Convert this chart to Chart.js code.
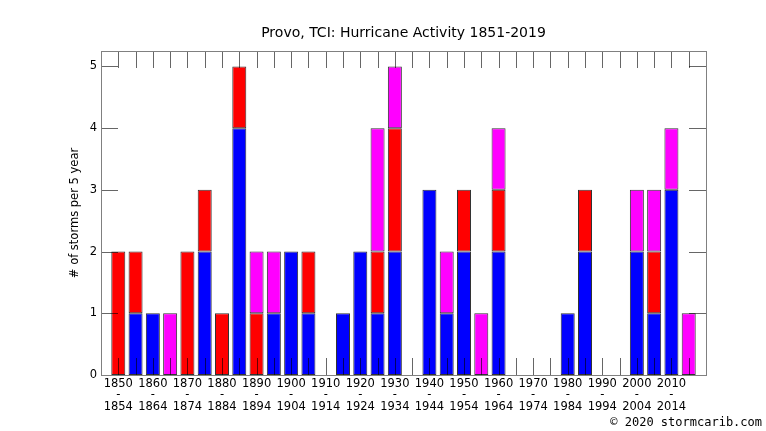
<!DOCTYPE html>
<html>
<head>
<meta charset="utf-8">
<title>Provo, TCI: Hurricane Activity 1851-2019</title>
<script src="https://cdn.jsdelivr.net/npm/chart.js@4.4.1/dist/chart.umd.min.js"></script>
<style>
  html, body { margin: 0; padding: 0; background: #fff; }
  #wrap { width: 766px; height: 431px; }
</style>
</head>
<body>
<div id="wrap"><canvas id="grafico"></canvas></div>
<script>
// first year of each 5-year period
const PERIOD_START = [1850, 1855, 1860, 1865, 1870, 1875, 1880, 1885, 1890, 1895,
                      1900, 1905, 1910, 1915, 1920, 1925, 1930, 1935, 1940, 1945,
                      1950, 1955, 1960, 1965, 1970, 1975, 1980, 1985, 1990, 1995,
                      2000, 2005, 2010, 2015];

// stacked counts per period, bottom to top (colour meaning not given on the chart)
const SERIES_BLUE    = [0, 1, 1, 0, 0, 2, 0, 4, 0, 1, 2, 1, 0, 1, 2, 1, 2, 0, 3, 1,
                        2, 0, 2, 0, 0, 0, 1, 2, 0, 0, 2, 1, 3, 0];
const SERIES_RED     = [2, 1, 0, 0, 2, 1, 1, 1, 1, 0, 0, 1, 0, 0, 0, 1, 2, 0, 0, 0,
                        1, 0, 1, 0, 0, 0, 0, 1, 0, 0, 0, 1, 0, 0];
const SERIES_MAGENTA = [0, 0, 0, 1, 0, 0, 0, 0, 1, 1, 0, 0, 0, 0, 0, 2, 1, 0, 0, 1,
                        0, 1, 1, 0, 0, 0, 0, 0, 0, 0, 1, 1, 1, 1];

const Y_TICKS = [0, 1, 2, 3, 4, 5];

// one empty slot on each side of the bars
const labels = [''].concat(PERIOD_START.map(String), ['']);
const pad = arr => [null].concat(arr, [null]);

const TICK_FONT = { family: 'DejaVu Sans', size: 11.5 };

function barSet(name, values, colour) {
  return {
    label: name,
    data: pad(values),
    backgroundColor: colour,
    borderColor: '#333',
    borderWidth: c => (c.raw ? 1 : 0),
    borderSkipped: false,
    categoryPercentage: 1,
    barPercentage: 0.81
  };
}

const innerTicks = {
  id: 'innerTicks',
  afterDatasetsDraw(chart) {
    const { ctx, chartArea: a, scales: { x, y } } = chart;
    ctx.save();
    ctx.lineWidth = 1;
    ctx.strokeStyle = 'rgba(0,0,0,0.6)';
    ctx.beginPath();
    PERIOD_START.forEach((p, i) => {
      const px = Math.round(x.getPixelForValue(i + 1)) + 0.5;
      ctx.moveTo(px, a.bottom);
      ctx.lineTo(px, a.bottom - 17);
      ctx.moveTo(px, a.top);
      ctx.lineTo(px, a.top + 17);
    });
    Y_TICKS.forEach(v => {
      const py = Math.round(y.getPixelForValue(v)) + 0.5;
      ctx.moveTo(a.left, py);
      ctx.lineTo(a.left + 17, py);
      ctx.moveTo(a.right, py);
      ctx.lineTo(a.right - 17, py);
    });
    ctx.stroke();

    ctx.strokeStyle = '#808080';
    ctx.strokeRect(Math.round(a.left) + 0.5, Math.round(a.top) + 0.5,
                   Math.round(a.right - a.left), Math.round(a.bottom - a.top));

    ctx.fillStyle = '#000';
    ctx.font = '12px "DejaVu Sans Mono"';
    ctx.textAlign = 'right';
    ctx.textBaseline = 'middle';
    ctx.fillText('\u00a9 2020 stormcarib.com', 762, 423);
    ctx.restore();
  }
};

new Chart(document.getElementById('grafico'), {
  type: 'bar',
  data: {
    labels: labels,
    datasets: [
      barSet('blue', SERIES_BLUE, '#0000ff'),
      barSet('red', SERIES_RED, '#ff0000'),
      barSet('magenta', SERIES_MAGENTA, '#ff00ff')
    ]
  },
  options: {
    responsive: true,
    maintainAspectRatio: false,
    animation: false,
    layout: { padding: { left: 41, right: 0, top: 0, bottom: 0 } },
    plugins: {
      legend: { display: false },
      tooltip: { enabled: false },
      title: {
        display: true,
        text: 'Provo, TCI: Hurricane Activity 1851-2019',
        color: '#000',
        font: { family: 'DejaVu Sans', size: 14, weight: 'normal', lineHeight: 1.2 },
        padding: { top: 25, bottom: 9.2 }
      }
    },
    scales: {
      x: {
        stacked: true,
        offset: false,
        grid: { display: false, drawTicks: false },
        border: { display: false },
        ticks: {
          autoSkip: false,
          maxRotation: 0,
          padding: 3,
          color: '#000',
          font: { ...TICK_FONT, lineHeight: 1 },
          callback: function (val) {
            const yr = parseInt(this.getLabelForValue(val), 10);
            if (isNaN(yr) || yr % 10 !== 0) return '';
            return [String(yr), '-', String(yr + 4)];
          }
        },
        afterFit: s => { s.height = 56; }
      },
      y: {
        stacked: true,
        min: 0,
        max: 5.25,
        grid: { display: false, drawTicks: false },
        border: { display: false },
        ticks: {
          stepSize: 1,
          includeBounds: false,
          padding: 4,
          color: '#000',
          font: TICK_FONT
        },
        title: {
          display: true,
          text: '# of storms per 5 year',
          color: '#000',
          font: { family: 'DejaVu Sans', size: 11.5 },
          padding: { top: 27, bottom: 0 }
        },
        afterFit: s => { s.width = 60; }
      },
      y2: {
        position: 'right',
        grid: { display: false, drawTicks: false },
        border: { display: false },
        ticks: { display: false },
        afterFit: s => { s.width = 60; }
      }
    }
  },
  plugins: [innerTicks]
});
</script>
</body>
</html>
